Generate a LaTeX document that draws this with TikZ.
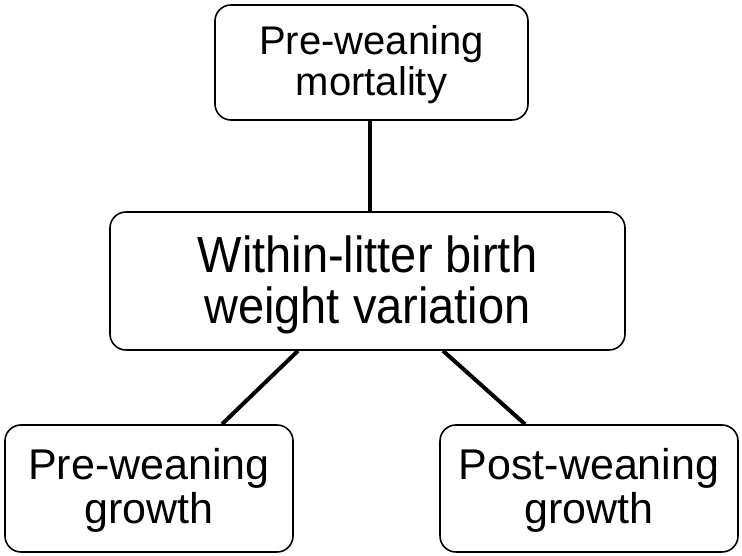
\documentclass[tikz,border=0pt]{standalone}
\usepackage{fontspec}
\setmainfont{Liberation Sans}
\newcommand{\boxtext}[2]{\raisebox{#1}[\height][\depth]{\begin{tabular}{@{}c@{}}#2\end{tabular}}}
\begin{document}
\begin{tikzpicture}[x=1pt,y=1pt,
  box/.style={draw=black, line width=1.6pt, rounded corners=16pt, align=center, inner sep=0pt},
  conn/.style={line width=4pt, black}]
\useasboundingbox (0,0) rectangle (742,556);
\node[box, minimum width=313pt, minimum height=115pt, font=\fontsize{40}{41}\selectfont] (top) at (371.5,493.5) {\boxtext{-4pt}{Pre-weaning\\mortality}};
\node[box, minimum width=515pt, minimum height=138pt, font=\fontsize{47}{44}\selectfont] (mid) at (367.5,275) {\scalebox{1}[1.08]{\boxtext{-5pt}{Within-litter birth\\weight variation}}};
\node[box, minimum width=288pt, minimum height=127pt, font=\fontsize{43}{44}\selectfont] (bl) at (149,67.5) {\boxtext{-4pt}{Pre-weaning\\growth}};
\node[box, minimum width=298pt, minimum height=127pt, font=\fontsize{43}{44}\selectfont] (br) at (589,67.5) {\boxtext{-4pt}{Post-weaning\\growth}};
\draw[conn] ([xshift=-1.5pt]top.south) -- ([xshift=2.5pt]mid.north);
\draw[conn] ([xshift=-69.5pt]mid.south) -- ([xshift=73pt]bl.north);
\draw[conn] ([xshift=75.5pt]mid.south) -- ([xshift=-64pt]br.north);
\end{tikzpicture}
\end{document}
